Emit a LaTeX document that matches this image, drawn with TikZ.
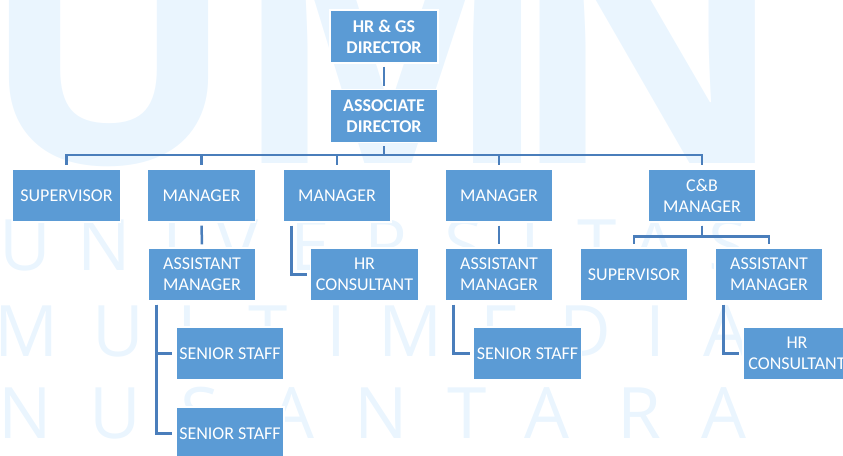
\documentclass[tikz,border=0pt]{standalone}
\usepackage{fontspec}
\setmainfont{Carlito}
\newfontfamily\wmfont{Open Sans}
\definecolor{boxblue}{RGB}{91,155,213}
\definecolor{linkblue}{RGB}{74,126,187}
\definecolor{wm}{RGB}{234,245,254}
\begin{document}
\begin{tikzpicture}[x=1pt,y=-1pt,
  orgbox/.style={rectangle, fill=boxblue, draw=white, line width=1.2pt,
    minimum width=108pt, minimum height=53pt, inner sep=0pt, align=center,
    text=white, font=\fontsize{18}{21}\selectfont},
  topbox/.style={orgbox, font=\fontsize{18}{21}\selectfont\bfseries},
  link/.style={draw=linkblue, line width=2.5pt, shorten >=3pt, shorten <=3pt},
  wmletter/.style={text=wm, anchor=base, inner sep=0pt,
    font=\wmfont\fontsize{71}{71}\selectfont},
  wmbig/.style={text=wm, anchor=base, inner sep=0pt,
    font=\wmfont\bfseries\fontsize{340}{340}\selectfont}]
\useasboundingbox (0,0) rectangle (843,455);

% background watermark
\node[wmbig] (wmU) at (109,163) {U};
\node[wmbig] (wmM) at (392,163) {M};
\node[wmbig] (wmN) at (648,163) {N};
\foreach \ch/\px [count=\i] in {U/25,N/104,I/172,V/238,E/310,R/386,S/464,I/530,T/597,A/655,S/728}
  \node[wmletter] (wa\i) at (\px,270) {\ch};
\foreach \ch/\px [count=\i] in {M/27,U/118,L/196,T/268,I/336,M/411,E/500,D/585,I/655,A/726}
  \node[wmletter] (wb\i) at (\px,356) {\ch};
\foreach \ch/\px [count=\i] in {N/25,U/115,S/200,A/292,N/381,T/467,A/547,R/639,A/724}
  \node[wmletter] (wc\i) at (\px,438) {\ch};

% organisation boxes
\node[topbox] (dir)   at (384,36.5)   {HR \& GS\\DIRECTOR};
\node[topbox] (assoc) at (384,116)    {ASSOCIATE\\DIRECTOR};

\node[orgbox] (sup1) at (66.5,195.5)  {SUPERVISOR};
\node[orgbox] (man1) at (201.5,195.5) {MANAGER};
\node[orgbox] (man2) at (337,195.5)   {MANAGER};
\node[orgbox] (man3) at (499,195.5)   {MANAGER};
\node[orgbox] (cb)   at (702,195.5)   {C\&B\\MANAGER};

\node[orgbox] (am1)  at (202,274.5)   {ASSISTANT\\MANAGER};
\node[orgbox] (hrc1) at (364.5,274.5) {HR\\CONSULTANT};
\node[orgbox] (am2)  at (499,274.5)   {ASSISTANT\\MANAGER};
\node[orgbox] (sup2) at (634,274.5)   {SUPERVISOR};
\node[orgbox] (am3)  at (769,274.5)   {ASSISTANT\\MANAGER};

\node[orgbox] (ss1)  at (230,353.5)   {SENIOR STAFF};
\node[orgbox] (ss2)  at (230,433.5)   {SENIOR STAFF};
\node[orgbox] (ss3)  at (527.5,353.5) {SENIOR STAFF};
\node[orgbox] (hrc2) at (797,353.5)   {HR\\CONSULTANT};

% reporting lines
\draw[link] (dir) -- (assoc);
\foreach \c in {sup1,man1,man2,man3,cb}
  \draw[link] (assoc.south) -- ++(0,12) -| (\c.north);
\foreach \c in {sup2,am3}
  \draw[link] (cb.south) -- ++(0,14) -| (\c.north);
\draw[link] (man1) -- (am1);
\draw[link] (man3) -- (am2);
\draw[link] ([xshift=9pt]man2.south west) |- (hrc1.west);
\draw[link] ([xshift=9pt]am1.south west) |- (ss1.west);
\draw[link] ([xshift=9pt]am1.south west) |- (ss2.west);
\draw[link] ([xshift=9pt]am2.south west) |- (ss3.west);
\draw[link] ([xshift=9pt]am3.south west) |- (hrc2.west);
\end{tikzpicture}
\end{document}
